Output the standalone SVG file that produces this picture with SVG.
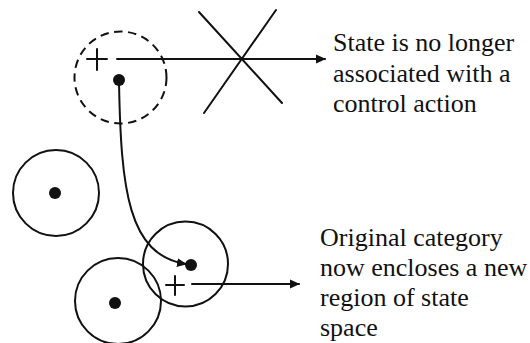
<svg xmlns="http://www.w3.org/2000/svg" width="530" height="343" viewBox="0 0 530 343">
<style>
.ln{fill:none;stroke:#111;stroke-width:2;stroke-linecap:round}
.cat{fill:none;stroke:#111;stroke-width:2}
.dot{fill:#111}
.lbl{font-size:26px;fill:#111}
</style>
<defs>
<marker id="ah" viewBox="0 0 10 10" refX="9" refY="5" markerWidth="10" markerHeight="10" markerUnits="userSpaceOnUse" orient="auto">
<path d="M0,0.5 L10,5 L0,9.5 Z" fill="#111"/>
</marker>
</defs>
<rect width="530" height="343" fill="#fff"/>
<g id="old-category">
<circle cx="120.5" cy="77.5" r="46" class="cat" stroke-dasharray="8.5 5.5"/>
<path d="M87,59 H107 M97,49 V70" class="ln"/>
<circle cx="119" cy="80" r="6" class="dot"/>
</g>
<g id="category-left">
<circle cx="56" cy="193" r="43" class="cat"/>
<circle cx="55" cy="193" r="6" class="dot"/>
</g>
<g id="category-moved">
<circle cx="185.5" cy="264" r="42.5" class="cat"/>
<circle cx="191" cy="265" r="6" class="dot"/>
<path d="M166,285 H184 M175,276 V295" class="ln"/>
</g>
<g id="category-bottom">
<circle cx="118" cy="301" r="43" class="cat"/>
<circle cx="115" cy="303" r="6" class="dot"/>
</g>
<g id="cross">
<path d="M199,12 L282,103 M276,10 L204,113" class="ln"/>
</g>
<g id="connectors">
<path d="M117,59 H325" class="ln" marker-end="url(#ah)"/>
<path d="M192,284 H299" class="ln" marker-end="url(#ah)"/>
<path d="M119,82 C121,190 128,255 186,264" class="ln" marker-end="url(#ah)"/>
</g>
<g id="label-top" font-family="'Liberation Serif', 'Times New Roman', 'DejaVu Serif', serif">
<text class="lbl" x="333" y="51">State is no longer</text>
<text class="lbl" x="333" y="81.5">associated with a</text>
<text class="lbl" x="333" y="112">control action</text>
</g>
<g id="label-bottom" font-family="'Liberation Serif', 'Times New Roman', 'DejaVu Serif', serif">
<text class="lbl" x="320" y="246">Original category</text>
<text class="lbl" x="320" y="276">now encloses a new</text>
<text class="lbl" x="320" y="306">region of state</text>
<text class="lbl" x="320" y="336">space</text>
</g>
</svg>
